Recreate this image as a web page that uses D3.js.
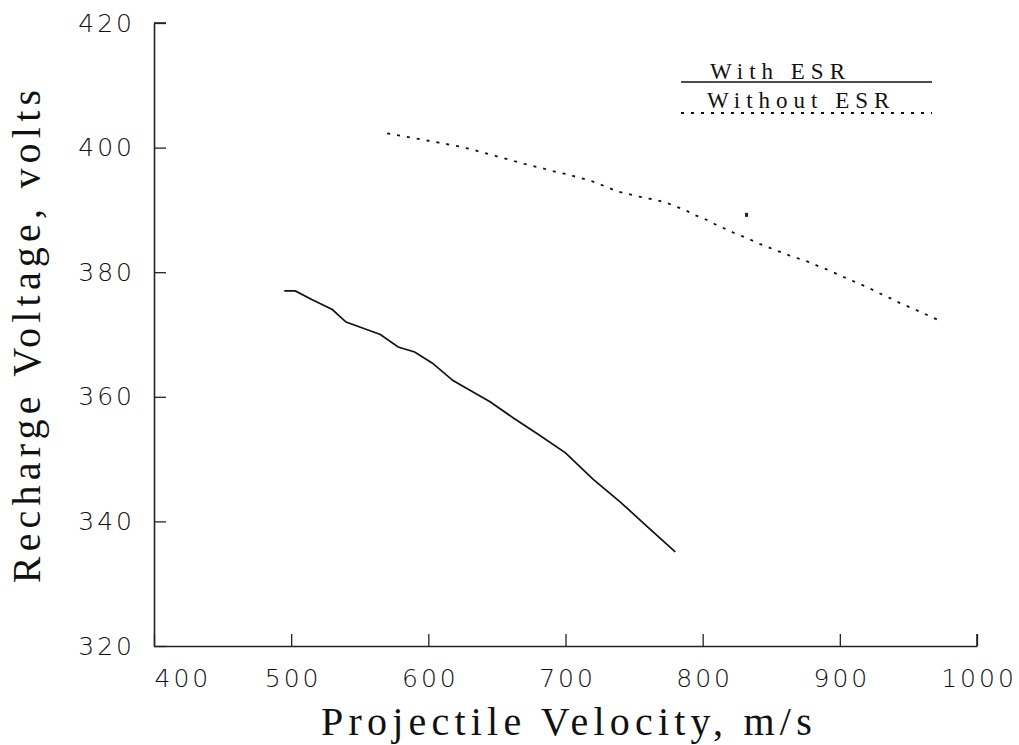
<!DOCTYPE html>
<html>
<head>
<meta charset="utf-8">
<script src="https://cdn.jsdelivr.net/npm/d3@7/dist/d3.min.js"></script>
<style>
  html, body { margin: 0; padding: 0; background: #fff; }
  svg { display: block; }
</style>
</head>
<body>
<svg id="chart" width="1019" height="745"></svg>
<script>
// ---- data ----
const xTicks = [400, 500, 600, 700, 800, 900, 1000];
const yTicks = [320, 340, 360, 380, 400, 420];

const withEsrVelocity = [495, 503, 515, 530, 540, 550, 565, 578, 590, 603, 618, 630, 645, 662, 680, 700, 720, 740, 760, 780];
const withEsrVoltage  = [377, 377, 375.6, 374, 372, 371.2, 370, 368, 367.2, 365.4, 362.6, 361.1, 359.2, 356.6, 354, 351, 346.8, 343.1, 339.1, 335.1];

const withoutEsrVelocity = [570, 580, 590, 600, 610, 620, 630, 640, 650, 660, 670, 681, 688, 695, 702, 709, 717, 731, 737, 745, 752, 759, 766, 774, 781, 788, 794, 802, 809, 815, 822, 835, 842, 849, 856, 863, 871, 878, 884, 891, 898, 905, 919, 932, 939, 945, 952, 959, 966, 973];
const withoutEsrVoltage  = [402.3, 401.9, 401.5, 401.1, 400.7, 400.3, 399.8, 399.2, 398.6, 398.0, 397.4, 396.8, 396.4, 396.0, 395.7, 395.2, 394.8, 393.6, 393.0, 392.6, 392.2, 391.9, 391.6, 391.1, 390.5, 389.9, 389.2, 388.5, 387.7, 387.1, 386.4, 385.2, 384.5, 383.9, 383.3, 382.7, 382.1, 381.6, 381.0, 380.4, 379.7, 379.0, 377.7, 376.3, 375.6, 374.9, 374.3, 373.6, 372.9, 372.2];

const seriesNames = ["With ESR", "Without ESR"];
const xTitle = "Projectile Velocity,  m/s";
const yTitle = "Recharge Voltage,  volts";
const strayMarkX = [832];
const strayMarkY = [389.2];

// ---- layout ----
const svg = d3.select("#chart");
const x = d3.scaleLinear().domain([400, 1000]).range([154, 977]);
const y = d3.scaleLinear().domain([320, 420]).range([646, 23]);

const numFont = "'DejaVu Sans', 'Liberation Sans', sans-serif";
const serifFont = "'Liberation Serif', 'DejaVu Serif', serif";
const tickLen = 12;

// x axis
const gx = svg.append("g")
  .attr("transform", `translate(0,${y(320)})`)
  .call(d3.axisBottom(x).tickValues(xTicks).tickSize(0).tickPadding(23).tickFormat(d3.format("d")));
// y axis
const gy = svg.append("g")
  .attr("transform", `translate(${x(400)},0)`)
  .call(d3.axisLeft(y).tickValues(yTicks).tickSize(0).tickPadding(19).tickFormat(d3.format("d")));

// inward ticks
gx.selectAll(".tick line").attr("y1", 0).attr("y2", -tickLen);
gy.selectAll(".tick line").attr("x1", 0).attr("x2", tickLen);

[gx, gy].forEach(g => {
  g.select(".domain").attr("stroke", "#222").attr("stroke-width", 1.6);
  g.selectAll(".tick line").attr("stroke", "#222").attr("stroke-width", 1.3);
  g.selectAll(".tick text")
    .attr("fill", "#111")
    .style("font-family", numFont)
    .style("font-size", "25px")
    .style("font-weight", "200")
    .style("letter-spacing", "3px");
});
// first x label sits to the right of the axis corner
gx.selectAll(".tick text").filter(d => d === 400).attr("text-anchor", "start").attr("dx", "0");
gx.selectAll(".tick text").filter(d => d !== 400).attr("dx", "1.5px");

// axis titles
svg.append("text")
  .attr("x", 569).attr("y", 735)
  .attr("text-anchor", "middle")
  .style("font-family", serifFont)
  .style("font-size", "40px")
  .style("letter-spacing", "5.2px")
  .attr("fill", "#111")
  .text(xTitle);

svg.append("text")
  .attr("transform", "translate(40,334) rotate(-90)")
  .attr("text-anchor", "middle")
  .style("font-family", serifFont)
  .style("font-size", "40px")
  .style("letter-spacing", "5.2px")
  .attr("fill", "#111")
  .text(yTitle);

// series lines
const line = d3.line().x(d => x(d[0])).y(d => y(d[1]));
const withEsr = withEsrVelocity.map((v, i) => [v, withEsrVoltage[i]]);
const withoutEsr = withoutEsrVelocity.map((v, i) => [v, withoutEsrVoltage[i]]);

svg.append("path")
  .datum(withEsr)
  .attr("d", line)
  .attr("fill", "none")
  .attr("stroke", "#111")
  .attr("stroke-width", 1.7);

svg.append("path")
  .datum(withoutEsr)
  .attr("d", line)
  .attr("fill", "none")
  .attr("stroke", "#111")
  .attr("stroke-width", 1.8)
  .attr("stroke-dasharray", "3,7");

// stray mark in the original scan
svg.selectAll(".stray")
  .data(strayMarkX.map((v, i) => [v, strayMarkY[i]]))
  .enter().append("rect")
  .attr("x", d => x(d[0]) - 1.5).attr("y", d => y(d[1]) - 2)
  .attr("width", 3).attr("height", 4)
  .attr("fill", "#222");

// legend
const legend = svg.append("g");
const legendRows = [
  { name: seriesNames[0], textX: 710, textY: 79, lineY: 82, dash: null },
  { name: seriesNames[1], textX: 707, textY: 108, lineY: 113, dash: "3,7" }
];
legendRows.forEach(r => {
  legend.append("text")
    .attr("x", r.textX).attr("y", r.textY)
    .style("font-family", serifFont)
    .style("font-size", "23px")
    .style("letter-spacing", "6px")
    .attr("fill", "#111")
    .text(r.name);
  const l = legend.append("line")
    .attr("x1", 681).attr("x2", 932)
    .attr("y1", r.lineY).attr("y2", r.lineY)
    .attr("stroke", "#111")
    .attr("stroke-width", r.dash ? 1.8 : 1.5);
  if (r.dash) l.attr("stroke-dasharray", r.dash);
});

// outer end ticks (420 at top, 1000 at right), pointing inward
svg.append("line")
  .attr("x1", x(400)).attr("x2", x(400) + tickLen)
  .attr("y1", y(420)).attr("y2", y(420))
  .attr("stroke", "#222").attr("stroke-width", 1.6);
svg.append("line")
  .attr("x1", x(1000)).attr("x2", x(1000))
  .attr("y1", y(320)).attr("y2", y(320) - tickLen)
  .attr("stroke", "#222").attr("stroke-width", 1.6);
</script>
</body>
</html>
